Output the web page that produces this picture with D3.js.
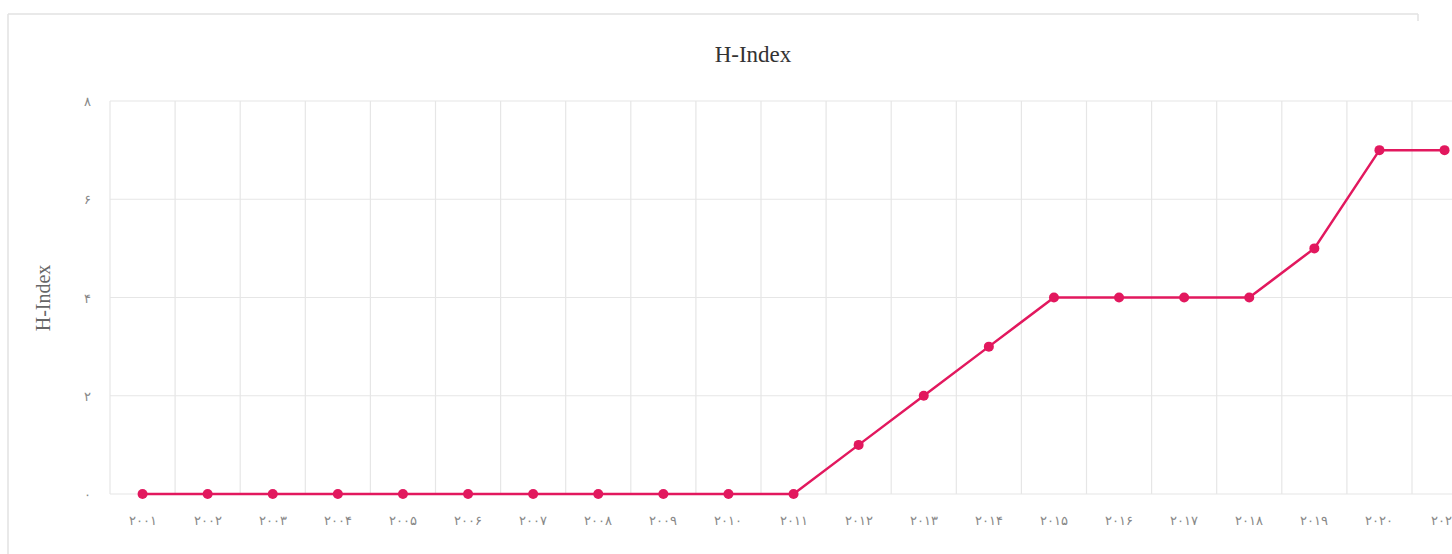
<!DOCTYPE html>
<html><head><meta charset="utf-8">
<script src="https://cdn.jsdelivr.net/npm/d3@7"></script>
<style>
html,body{margin:0;padding:0;background:#fff;overflow:hidden;}
svg{display:block;}
</style></head>
<body>
<svg id="c" width="1452" height="554"></svg>
<script>
const years = ["۲۰۰۱","۲۰۰۲","۲۰۰۳","۲۰۰۴","۲۰۰۵","۲۰۰۶","۲۰۰۷","۲۰۰۸","۲۰۰۹","۲۰۱۰","۲۰۱۱","۲۰۱۲","۲۰۱۳","۲۰۱۴","۲۰۱۵","۲۰۱۶","۲۰۱۷","۲۰۱۸","۲۰۱۹","۲۰۲۰","۲۰۲۱"];
const hIndex = [0,0,0,0,0,0,0,0,0,0,0,1,2,3,4,4,4,4,5,7,7];
const yTicks = [0,2,4,6,8];
const yTickLabels = ["۰","۲","۴","۶","۸"];
const title = "H-Index";
const yLabel = "H-Index";

(function(){
const svg = d3.select("#c");
// card border
svg.append("line").attr("x1",8).attr("x2",1418).attr("y1",14).attr("y2",14).attr("stroke","#e2e2e2").attr("stroke-width",1.5);
svg.append("line").attr("x1",8).attr("x2",8).attr("y1",14).attr("y2",554).attr("stroke","#e2e2e2").attr("stroke-width",1.5);
svg.append("line").attr("x1",1418).attr("x2",1418).attr("y1",14).attr("y2",21).attr("stroke","#e2e2e2").attr("stroke-width",1.5);

const pl = 110, pt = 101, pb = 494, band = 65.1;
const x = d3.scaleBand().domain(years).range([pl, pl + band*years.length]).padding(0);
const y = d3.scaleLinear().domain([0,8]).range([pb, pt]);

const g = svg.append("g");
// vertical grid
g.selectAll("line.vg").data(years.concat(["end"])).enter().append("line")
  .attr("x1",(d,i)=>pl+i*x.bandwidth()).attr("x2",(d,i)=>pl+i*x.bandwidth())
  .attr("y1",pt).attr("y2",pb).attr("stroke","#e6e6e6").attr("stroke-width",1.2);
// horizontal grid
g.selectAll("line.hg").data(yTicks).enter().append("line")
  .attr("x1",pl).attr("x2",1452).attr("y1",d=>y(d)).attr("y2",d=>y(d))
  .attr("stroke","#e6e6e6").attr("stroke-width",1.2);

// y tick labels
g.selectAll("text.yt").data(yTicks).enter().append("text")
  .attr("x",87).attr("y",d=>y(d)+5).attr("text-anchor","middle")
  .attr("font-family","DejaVu Sans, sans-serif").attr("font-size",13).attr("font-weight",300).attr("fill","#888")
  .text((d,i)=>yTickLabels[i]);

// x labels
g.selectAll("text.xt").data(years).enter().append("text")
  .attr("x",d=>x(d)+x.bandwidth()/2).attr("y",525).attr("text-anchor","middle")
  .attr("font-family","DejaVu Sans, sans-serif").attr("font-size",13).attr("font-weight",300).attr("fill","#888")
  .text(d=>d);

// line
const line = d3.line().x((d,i)=>x(years[i])+x.bandwidth()/2).y(d=>y(d));
g.append("path").datum(hIndex).attr("d",line).attr("fill","none").attr("stroke","#e2185e").attr("stroke-width",2.5);
g.selectAll("circle").data(hIndex).enter().append("circle")
  .attr("cx",(d,i)=>x(years[i])+x.bandwidth()/2).attr("cy",d=>y(d)).attr("r",5).attr("fill","#e2185e");

// title
svg.append("text").attr("x",753).attr("y",62).attr("text-anchor","middle")
  .attr("font-family","Liberation Serif, serif").attr("font-size",23).attr("fill","#333").text(title);
// y label
svg.append("text").attr("transform","translate(50,298) rotate(-90)").attr("text-anchor","middle")
  .attr("font-family","Liberation Serif, serif").attr("font-size",20).attr("fill","#666").text(yLabel);
})();
</script>
</body></html>
